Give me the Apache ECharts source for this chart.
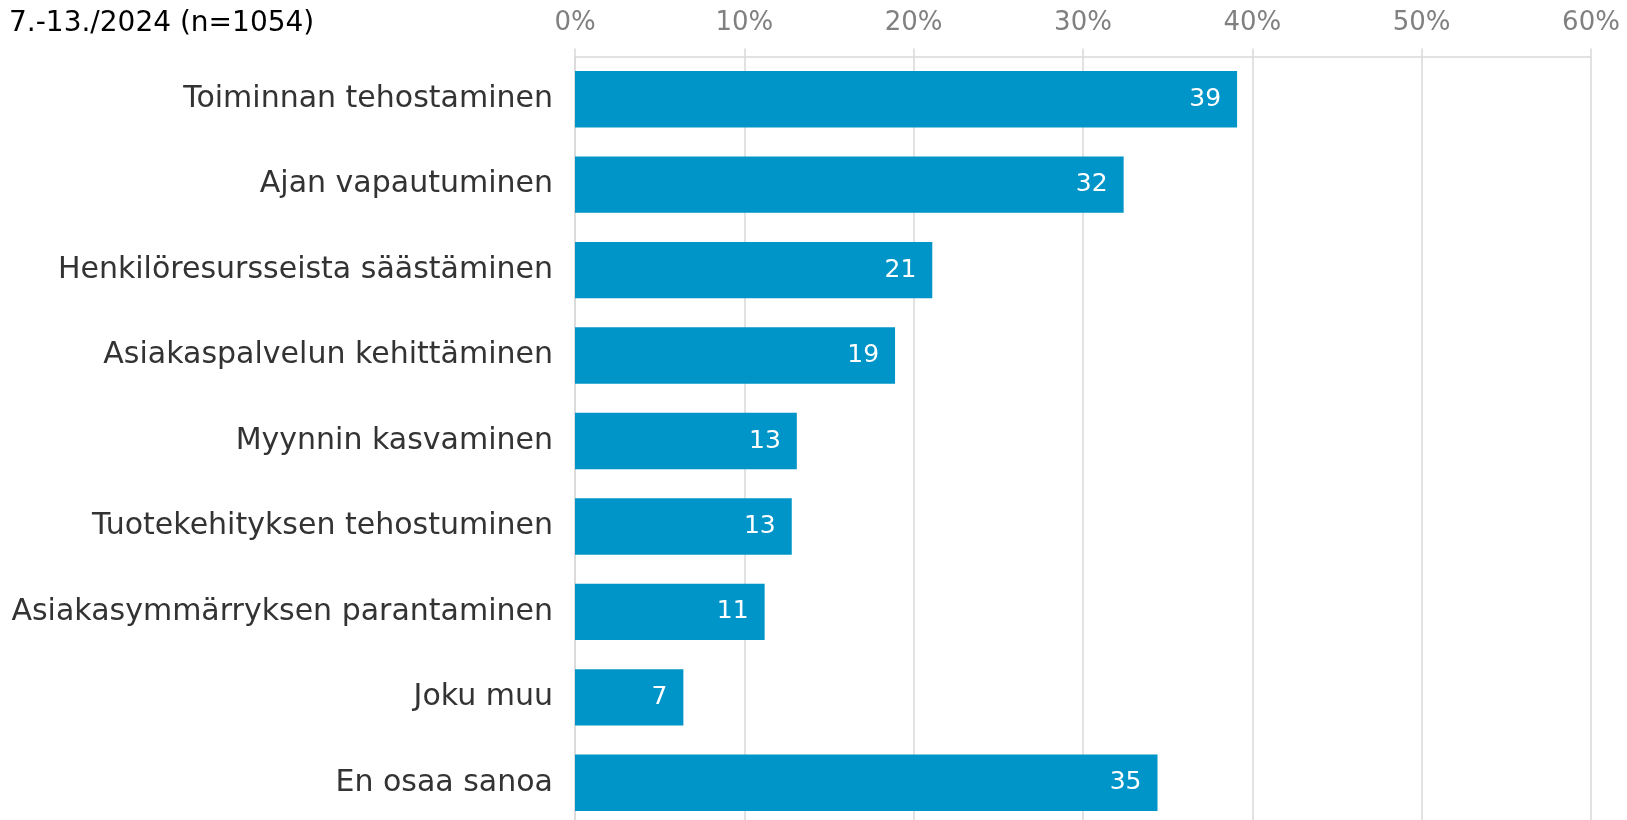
<!DOCTYPE html>
<html>
<head>
<meta charset="utf-8">
<script src="https://cdn.jsdelivr.net/npm/echarts@6/dist/echarts.min.js"></script>
<style>
html,body{margin:0;padding:0;background:#fff;overflow:hidden;}
#c{width:1627px;height:830px;}
</style>
</head>
<body>
<div id="c"></div>
<script>
const titleText = '7.-13./2024 (n=1054)';
const categories = [
  'Toiminnan tehostaminen',
  'Ajan vapautuminen',
  'Henkilöresursseista säästäminen',
  'Asiakaspalvelun kehittäminen',
  'Myynnin kasvaminen',
  'Tuotekehityksen tehostuminen',
  'Asiakasymmärryksen parantaminen',
  'Joku muu',
  'En osaa sanoa'
];
const values = [39.1, 32.4, 21.1, 18.9, 13.1, 12.8, 11.2, 6.4, 34.4];
const valueLabels = ['39', '32', '21', '19', '13', '13', '11', '7', '35'];
const tickValues = [0, 10, 20, 30, 40, 50, 60];

const FONT = 'DejaVu Sans';
const chart = echarts.init(document.getElementById('c'), null, {renderer: 'canvas'});
chart.setOption({
  animation: false,
  backgroundColor: '#fff',
  title: {
    text: titleText,
    left: 4, top: 5,
    textStyle: {fontFamily: FONT, fontSize: 28, fontWeight: 'normal', color: '#000'}
  },
  grid: {left: 575, right: 36, top: 56.5, height: 769, containLabel: false},
  xAxis: {
    type: 'value',
    position: 'top',
    min: tickValues[0],
    max: tickValues[tickValues.length - 1],
    interval: 10,
    axisLine: {show: true, lineStyle: {color: '#d9d9d9', width: 1.5}},
    axisTick: {show: true, length: 8, lineStyle: {color: '#d9d9d9', width: 1.5}},
    splitLine: {show: true, lineStyle: {color: '#d9d9d9', width: 1.5}},
    axisLabel: {
      margin: 20,
      fontFamily: FONT, fontSize: 26, color: '#808080',
      formatter: v => v + '%'
    }
  },
  yAxis: {
    type: 'category',
    inverse: true,
    data: categories,
    axisLine: {show: true, lineStyle: {color: '#d9d9d9', width: 1.5}},
    axisTick: {show: false},
    axisLabel: {margin: 22, fontFamily: FONT, fontSize: 30, color: '#333333', padding: [6, 0, 0, 0]}
  },
  series: [{
    type: 'bar',
    data: values,
    barWidth: '66%',
    itemStyle: {color: '#0095c8'},
    label: {
      show: true,
      position: 'insideRight',
      distance: 16,
      fontFamily: FONT, fontSize: 25, color: '#fff',
      padding: [4, 0, 0, 0],
      formatter: p => valueLabels[p.dataIndex]
    }
  }]
});
</script>
</body>
</html>
